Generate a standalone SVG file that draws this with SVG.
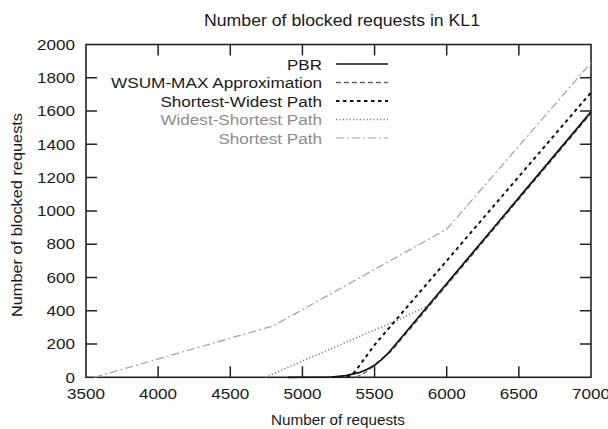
<svg xmlns="http://www.w3.org/2000/svg" width="608" height="429" viewBox="0 0 608 429">
  <style>
    text { font-family: "Liberation Sans", Arial, Helvetica, sans-serif; fill: #1a1a1a; }
    .tick { font-size: 14.5px; }
    .ylab { text-anchor: end; }
    .xlab { text-anchor: middle; }
    .key { font-size: 15.5px; text-anchor: end; }
    .keygray { fill: #8c8c8c; }
    .frame { fill: none; stroke: #222; stroke-width: 1.6; }
    .grid { stroke: #222; stroke-width: 1.5; }
    .pbr { fill: none; stroke: #111; stroke-width: 1.7; stroke-linejoin: round; }
    .wsum { fill: none; stroke: #666; stroke-width: 1.4; stroke-dasharray: 5 3; }
    .swp { fill: none; stroke: #111; stroke-width: 2; stroke-dasharray: 3.5 3.5; }
    .wsp { fill: none; stroke: #808080; stroke-width: 1.6; stroke-dasharray: 1.2 2.2; }
    .sp { fill: none; stroke: #a0a0a0; stroke-width: 1.2; stroke-dasharray: 8 3 2 3; }
  </style>

  <!-- title -->
  <text x="342" y="26" font-size="16" text-anchor="middle" textLength="276" lengthAdjust="spacingAndGlyphs">Number of blocked requests in KL1</text>

  <!-- axes frame and tics -->
  <g id="axes">
    <rect class="frame" x="86" y="44.5" width="505" height="332.8"/>
    <path class="grid" d="M158.14,377.3v-11 M230.29,377.3v-11 M302.43,377.3v-11 M374.57,377.3v-11 M446.71,377.3v-11 M518.86,377.3v-11
      M158.14,44.5v11 M230.29,44.5v11 M302.43,44.5v11 M374.57,44.5v11 M446.71,44.5v11 M518.86,44.5v11
      M86,344.02h11 M86,310.74h11 M86,277.46h11 M86,244.18h11 M86,210.9h11 M86,177.62h11 M86,144.34h11 M86,111.06h11 M86,77.78h11
      M591,344.02h-11 M591,310.74h-11 M591,277.46h-11 M591,244.18h-11 M591,210.9h-11 M591,177.62h-11 M591,144.34h-11 M591,111.06h-11 M591,77.78h-11"/>
  </g>

  <!-- y tick labels -->
  <g id="ytics" class="tick ylab">
    <text x="75" y="382.5" textLength="9.5" lengthAdjust="spacingAndGlyphs">0</text>
    <text x="75" y="349.2" textLength="28.5" lengthAdjust="spacingAndGlyphs">200</text>
    <text x="75" y="315.9" textLength="28.5" lengthAdjust="spacingAndGlyphs">400</text>
    <text x="75" y="282.6" textLength="28.5" lengthAdjust="spacingAndGlyphs">600</text>
    <text x="75" y="249.4" textLength="28.5" lengthAdjust="spacingAndGlyphs">800</text>
    <text x="75" y="216.1" textLength="38" lengthAdjust="spacingAndGlyphs">1000</text>
    <text x="75" y="182.8" textLength="38" lengthAdjust="spacingAndGlyphs">1200</text>
    <text x="75" y="149.5" textLength="38" lengthAdjust="spacingAndGlyphs">1400</text>
    <text x="75" y="116.3" textLength="38" lengthAdjust="spacingAndGlyphs">1600</text>
    <text x="75" y="83" textLength="38" lengthAdjust="spacingAndGlyphs">1800</text>
    <text x="75" y="49.7" textLength="38" lengthAdjust="spacingAndGlyphs">2000</text>
  </g>

  <!-- x tick labels -->
  <g id="xtics" class="tick xlab">
    <text x="86" y="399" textLength="38" lengthAdjust="spacingAndGlyphs">3500</text>
    <text x="158.14" y="399" textLength="38" lengthAdjust="spacingAndGlyphs">4000</text>
    <text x="230.29" y="399" textLength="38" lengthAdjust="spacingAndGlyphs">4500</text>
    <text x="302.43" y="399" textLength="38" lengthAdjust="spacingAndGlyphs">5000</text>
    <text x="374.57" y="399" textLength="38" lengthAdjust="spacingAndGlyphs">5500</text>
    <text x="446.71" y="399" textLength="38" lengthAdjust="spacingAndGlyphs">6000</text>
    <text x="518.86" y="399" textLength="38" lengthAdjust="spacingAndGlyphs">6500</text>
    <text x="591" y="399" textLength="38" lengthAdjust="spacingAndGlyphs">7000</text>
  </g>

  <!-- axis titles -->
  <text x="338" y="424.5" font-size="14" text-anchor="middle" textLength="134" lengthAdjust="spacingAndGlyphs">Number of requests</text>
  <text transform="translate(22,215) rotate(-90)" font-size="14.5" text-anchor="middle" textLength="204" lengthAdjust="spacingAndGlyphs">Number of blocked requests</text>

  <!-- data series -->
  <g id="connectors">
    <path id="sp" class="sp" d="M94.66,377.3 L273.57,325.72 L446.72,229.2 L591,62.8"/>
    <path id="wsp" class="wsp" d="M265.64,377.3 L302.43,361 L345.71,342.4 L399.97,319.1 L427.96,305.9 L591,111.6"/>
    <path id="wsum" class="wsum" d="M355.82,377.3 L363.03,374 L370.24,368.6 L377.46,362.6 L384.67,356.5 L391.89,350.6 L591,113.3"/>
    <path id="swp" class="swp" d="M347.16,377.3 L354.37,372.3 L363.03,360.7 L374.57,344.9 L591,92.4"/>
    <path id="pbr" class="pbr" d="M288,377.3 L331.29,377 L345.71,375.6 L360.14,372.3 L367.36,369.3 L374.57,365.3 L381.79,359.3 L389,352.3 L591,111.9"/>
  </g>

  <!-- key -->
  <g id="key">
    <g id="key-pbr">
      <text class="key" x="322" y="69.6" textLength="35" lengthAdjust="spacingAndGlyphs">PBR</text>
      <path class="pbr" d="M336,64H388"/>
    </g>
    <g id="key-wsum">
      <text class="key" x="322" y="88.1" textLength="211" lengthAdjust="spacingAndGlyphs">WSUM-MAX Approximation</text>
      <path class="wsum" d="M336,82.5H388"/>
    </g>
    <g id="key-swp">
      <text class="key" x="322" y="106.6" textLength="161.6" lengthAdjust="spacingAndGlyphs">Shortest-Widest Path</text>
      <path class="swp" d="M336,101H388"/>
    </g>
    <g id="key-wsp">
      <text class="key keygray" x="322" y="125.1" textLength="161.6" lengthAdjust="spacingAndGlyphs">Widest-Shortest Path</text>
      <path class="wsp" d="M336,119.5H388"/>
    </g>
    <g id="key-sp">
      <text class="key keygray" x="322" y="143.6" textLength="103.6" lengthAdjust="spacingAndGlyphs">Shortest Path</text>
      <path class="sp" d="M336,138H388"/>
    </g>
  </g>
</svg>
